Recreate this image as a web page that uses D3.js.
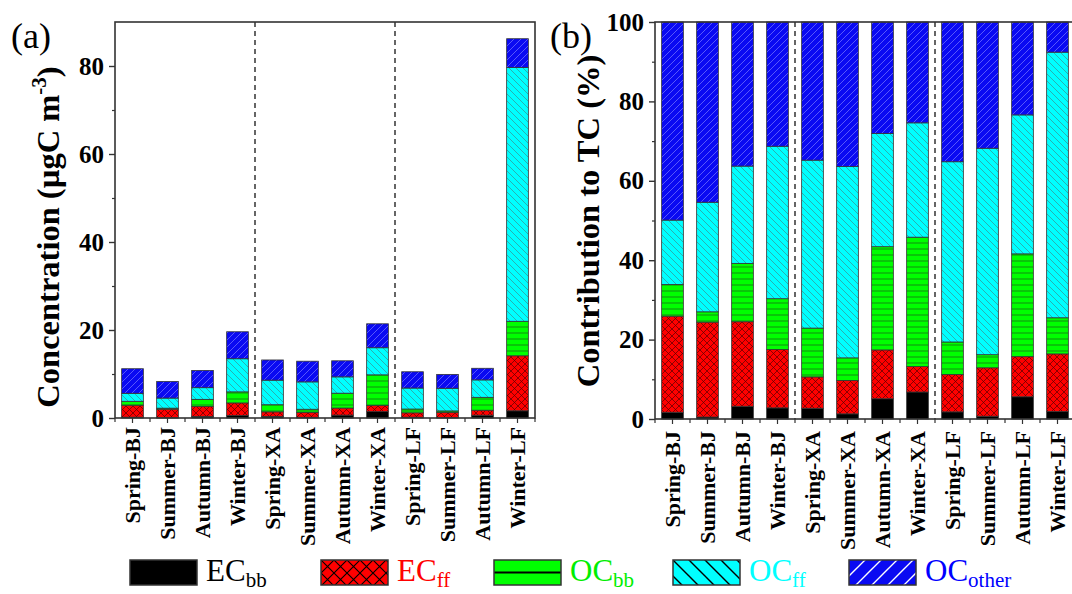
<!DOCTYPE html>
<html>
<head>
<meta charset="utf-8">
<script src="https://cdn.jsdelivr.net/npm/d3@7"></script>
<style>
    body { margin: 0; background: #fff; }
    text { font-family: "Liberation Serif", "Times New Roman", serif; }
</style>
</head>
<body>
<svg id="chart" width="1072" height="594"></svg>
<script>
"use strict";

// Categories (season-site)
var categories = ["Spring-BJ", "Summer-BJ", "Autumn-BJ", "Winter-BJ",
                  "Spring-XA", "Summer-XA", "Autumn-XA", "Winter-XA",
                  "Spring-LF", "Summer-LF", "Autumn-LF", "Winter-LF"];
// dashed separators come after these categories
var groupEnds = ["Winter-BJ", "Winter-XA"];

var seriesKeys = ["ECbb", "ECff", "OCbb", "OCff", "OCother"];
var legendMain = ["EC", "EC", "OC", "OC", "OC"];
var legendSub = ["bb", "ff", "bb", "ff", "other"];

// (a) concentration, µgC m-3
var concECbb    = [0.19, 0.04, 0.35, 0.55, 0.36, 0.17, 0.66, 1.46, 0.19, 0.07, 0.63, 1.64];
var concECff    = [2.71, 1.98, 2.30, 2.88, 1.04, 1.08, 1.60, 1.37, 0.99, 1.21, 1.14, 12.50];
var concOCbb    = [0.90, 0.22, 1.59, 2.51, 1.62, 0.74, 3.38, 6.98, 0.86, 0.33, 2.93, 7.84];
var concOCff    = [1.81, 2.29, 2.65, 7.53, 5.58, 6.22, 3.71, 6.16, 4.77, 5.15, 3.96, 57.67];
var concOCother = [5.59, 3.77, 3.92, 6.13, 4.59, 4.70, 3.65, 5.44, 3.70, 3.15, 2.64, 6.55];

// (b) contribution to TC, %
var pctECbb    = [1.7, 0.5, 3.2, 2.8, 2.7, 1.3, 5.1, 6.8, 1.8, 0.7, 5.6, 1.9];
var pctECff    = [24.2, 23.9, 21.3, 14.7, 7.9, 8.4, 12.3, 6.4, 9.4, 12.2, 10.1, 14.5];
var pctOCbb    = [8.0, 2.6, 14.7, 12.8, 12.3, 5.7, 26.0, 32.6, 8.2, 3.3, 25.9, 9.1];
var pctOCff    = [16.2, 27.6, 24.5, 38.4, 42.3, 48.2, 28.5, 28.8, 45.4, 52.0, 35.0, 66.9];
var pctOCother = [49.9, 45.4, 36.3, 31.3, 34.8, 36.4, 28.1, 25.4, 35.2, 31.8, 23.4, 7.6];

var concTicks = [0, 20, 40, 60, 80];
var concMinor = [10, 30, 50, 70];
var pctTicks = [0, 20, 40, 60, 80, 100];
var pctMinor = [10, 30, 50, 70, 90];

function maakRijen(reeksen) {
    return categories.map(function (c, i) {
        var r = { cat: c };
        seriesKeys.forEach(function (k, j) { r[k] = reeksen[j][i]; });
        return r;
    });
}

var svg = d3.select("#chart");
var defs = svg.append("defs");

// Hatch patterns
function patroon(id, w, h, bg, pad, lijn, breedte, ox, oy) {
    var p = defs.append("pattern")
        .attr("id", id)
        .attr("patternUnits", "userSpaceOnUse")
        .attr("width", w).attr("height", h)
        .attr("x", ox || 0).attr("y", oy || 0);
    p.append("rect").attr("width", w).attr("height", h).attr("fill", bg);
    p.append("path").attr("d", pad).attr("stroke", lijn).attr("stroke-width", breedte).attr("fill", "none");
}
function kruis(s) { return "M0,0L" + s + "," + s + "M" + s + ",0L0," + s; }
function back(s) { return "M0,0L" + s + "," + s + "M-1," + (s - 1) + "L1," + (s + 1) + "M" + (s - 1) + ",-1L" + (s + 1) + ",1"; }
function fwd(s) { return "M0," + s + "L" + s + ",0M-1,1L1,-1M" + (s - 1) + "," + (s + 1) + "L" + (s + 1) + "," + (s - 1); }

patroon("p-ecff", 7, 7, "#ff0000", kruis(7), "#5a0000", 0.7);
patroon("p-ocbb", 6, 6, "#00ff00", "M0,3L6,3", "#1a5a1a", 0.7);
patroon("p-ocff", 7, 7, "#00ffff", back(7), "#3a8f8f", 0.7);
patroon("p-ocother", 7, 7, "#0a0af2", fwd(7), "#7a7aff", 0.7);

var vulling = {
    ECbb: "#000000",
    ECff: "url(#p-ecff)",
    OCbb: "url(#p-ocbb)",
    OCff: "url(#p-ocff)",
    OCother: "url(#p-ocother)"
};
var tekstKleur = ["#000000", "#ff0000", "#00ee00", "#00ffff", "#0000ff"];

function tekenPaneel(cfg) {
    var L = cfg.layout;
    var g = svg.append("g");

    var x = d3.scaleBand().domain(categories).range([L.left, L.right])
        .paddingInner(0.38).paddingOuter(0.19);
    var y = d3.scaleLinear().domain([0, cfg.yMax]).range([L.bottom, L.top]);

    var stapels = d3.stack().keys(seriesKeys)(maakRijen(cfg.reeksen));

    g.selectAll("g.laag")
        .data(stapels)
        .enter().append("g")
        .attr("class", "laag")
        .attr("fill", function (d) { return vulling[d.key]; })
        .selectAll("rect")
        .data(function (d) { return d; })
        .enter().append("rect")
        .attr("x", function (d) { return x(d.data.cat); })
        .attr("y", function (d) { return y(d[1]); })
        .attr("width", x.bandwidth())
        .attr("height", function (d) { return Math.max(0, y(d[0]) - y(d[1])); })
        .attr("stroke", "#333")
        .attr("stroke-width", 0.8);

    // dashed separators between sites
    g.selectAll("line.scheiding")
        .data(groupEnds)
        .enter().append("line")
        .attr("class", "scheiding")
        .attr("x1", function (c) { return x(c) + x.bandwidth() + (x.step() - x.bandwidth()) / 2; })
        .attr("x2", function (c) { return x(c) + x.bandwidth() + (x.step() - x.bandwidth()) / 2; })
        .attr("y1", L.top).attr("y2", L.bottom)
        .attr("stroke", "#000").attr("stroke-width", 1.2)
        .attr("stroke-dasharray", "5,4");

    // frame
    g.append("rect")
        .attr("x", L.left).attr("y", L.top)
        .attr("width", L.right - L.left).attr("height", L.bottom - L.top)
        .attr("fill", "none").attr("stroke", "#333").attr("stroke-width", 1.6);

    // y axis
    var ya = g.append("g").attr("transform", "translate(" + L.left + ",0)")
        .call(d3.axisLeft(y).tickValues(cfg.ticks).tickSize(6).tickPadding(5).tickFormat(d3.format("d")));
    ya.select(".domain").remove();
    ya.selectAll(".tick line").attr("stroke", "#333").attr("stroke-width", 1.4);
    ya.selectAll("text").attr("font-size", 25).attr("font-weight", "bold")
        .attr("font-family", "Liberation Serif").attr("fill", "#000");
    var ym = g.append("g").attr("transform", "translate(" + L.left + ",0)")
        .call(d3.axisLeft(y).tickValues(cfg.minor).tickSize(3).tickFormat(""));
    ym.select(".domain").remove();
    ym.selectAll(".tick line").attr("stroke", "#333").attr("stroke-width", 1.2);

    // x axis
    var xa = g.append("g").attr("transform", "translate(0," + L.bottom + ")")
        .call(d3.axisBottom(x).tickSize(5));
    xa.select(".domain").remove();
    xa.selectAll(".tick line").attr("stroke", "#333").attr("stroke-width", 1.2);
    xa.selectAll("text")
        .attr("transform", "rotate(-90)")
        .attr("x", cfg.labelGap).attr("y", 0).attr("dy", "0.35em")
        .attr("text-anchor", "end")
        .attr("font-size", 22).attr("font-weight", "bold")
        .attr("font-family", "Liberation Serif").attr("fill", "#000");
    g.append("g").selectAll("line")
        .data(d3.range(categories.length + 1))
        .enter().append("line")
        .attr("x1", function (i) { return L.left + i * x.step(); })
        .attr("x2", function (i) { return L.left + i * x.step(); })
        .attr("y1", L.bottom).attr("y2", L.bottom + 4)
        .attr("stroke", "#333").attr("stroke-width", 1.2);

    // axis title
    var t = g.append("text")
        .attr("transform", "translate(" + cfg.titelX + "," + cfg.titelY + ") rotate(-90)")
        .attr("text-anchor", "middle")
        .attr("font-size", 32.5).attr("font-weight", "bold");
    cfg.titel(t);

    // panel tag
    g.append("text").attr("x", cfg.tagX).attr("y", 48)
        .attr("font-size", 36).text(cfg.tag);
}

tekenPaneel({
    layout: { left: 115, right: 535, top: 22, bottom: 418 },
    reeksen: [concECbb, concECff, concOCbb, concOCff, concOCother],
    yMax: 90, ticks: concTicks, minor: concMinor,
    labelGap: -9,
    titelX: 59, titelY: 237,
    titel: function (t) {
        t.append("tspan").text("Concentration (µgC m");
        t.append("tspan").attr("font-size", 21).attr("dy", -13).text("-3");
        t.append("tspan").attr("dy", 13).text(")");
    },
    tag: "(a)", tagX: 11
});

tekenPaneel({
    layout: { left: 655, right: 1075, top: 22, bottom: 419 },
    reeksen: [pctECbb, pctECff, pctOCbb, pctOCff, pctOCother],
    yMax: 100, ticks: pctTicks, minor: pctMinor,
    labelGap: -12,
    titelX: 599, titelY: 221,
    titel: function (t) { t.text("Contribution to TC (%)"); },
    tag: "(b)", tagX: 550
});

// Legend
var legendX = [130, 321, 494, 673, 849];
var boxW = 67, boxH = 25, boxY = 560;

patroon("l-ecff", 13, 13, "#ff0000", kruis(13), "#000", 1.1, legendX[1], boxY);
patroon("l-ocbb", 10, boxH, "#00ff00", "M0," + (boxH / 2) + "L10," + (boxH / 2), "#000", 2, legendX[2], boxY);
patroon("l-ocff", 16, 16, "#00ffff", back(16), "#000", 1.4, legendX[3], boxY);
patroon("l-ocother", 16, 16, "#0a0af2", fwd(16), "#ffffff", 1.4, legendX[4], boxY);
var legendVulling = ["#000000", "url(#l-ecff)", "url(#l-ocbb)", "url(#l-ocff)", "url(#l-ocother)"];

var leg = svg.append("g").selectAll("g")
    .data(seriesKeys)
    .enter().append("g");
leg.append("rect")
    .attr("x", function (d, i) { return legendX[i]; })
    .attr("y", boxY).attr("width", boxW).attr("height", boxH)
    .attr("fill", function (d, i) { return legendVulling[i]; })
    .attr("stroke", "#333").attr("stroke-width", 1.5);
var lt = leg.append("text")
    .attr("x", function (d, i) { return legendX[i] + boxW + 9; })
    .attr("y", 581)
    .attr("font-size", 31)
    .attr("fill", function (d, i) { return tekstKleur[i]; });
lt.append("tspan").text(function (d, i) { return legendMain[i]; });
lt.append("tspan").attr("font-size", 21).attr("dy", 6).text(function (d, i) { return legendSub[i]; });
</script>
</body>
</html>
